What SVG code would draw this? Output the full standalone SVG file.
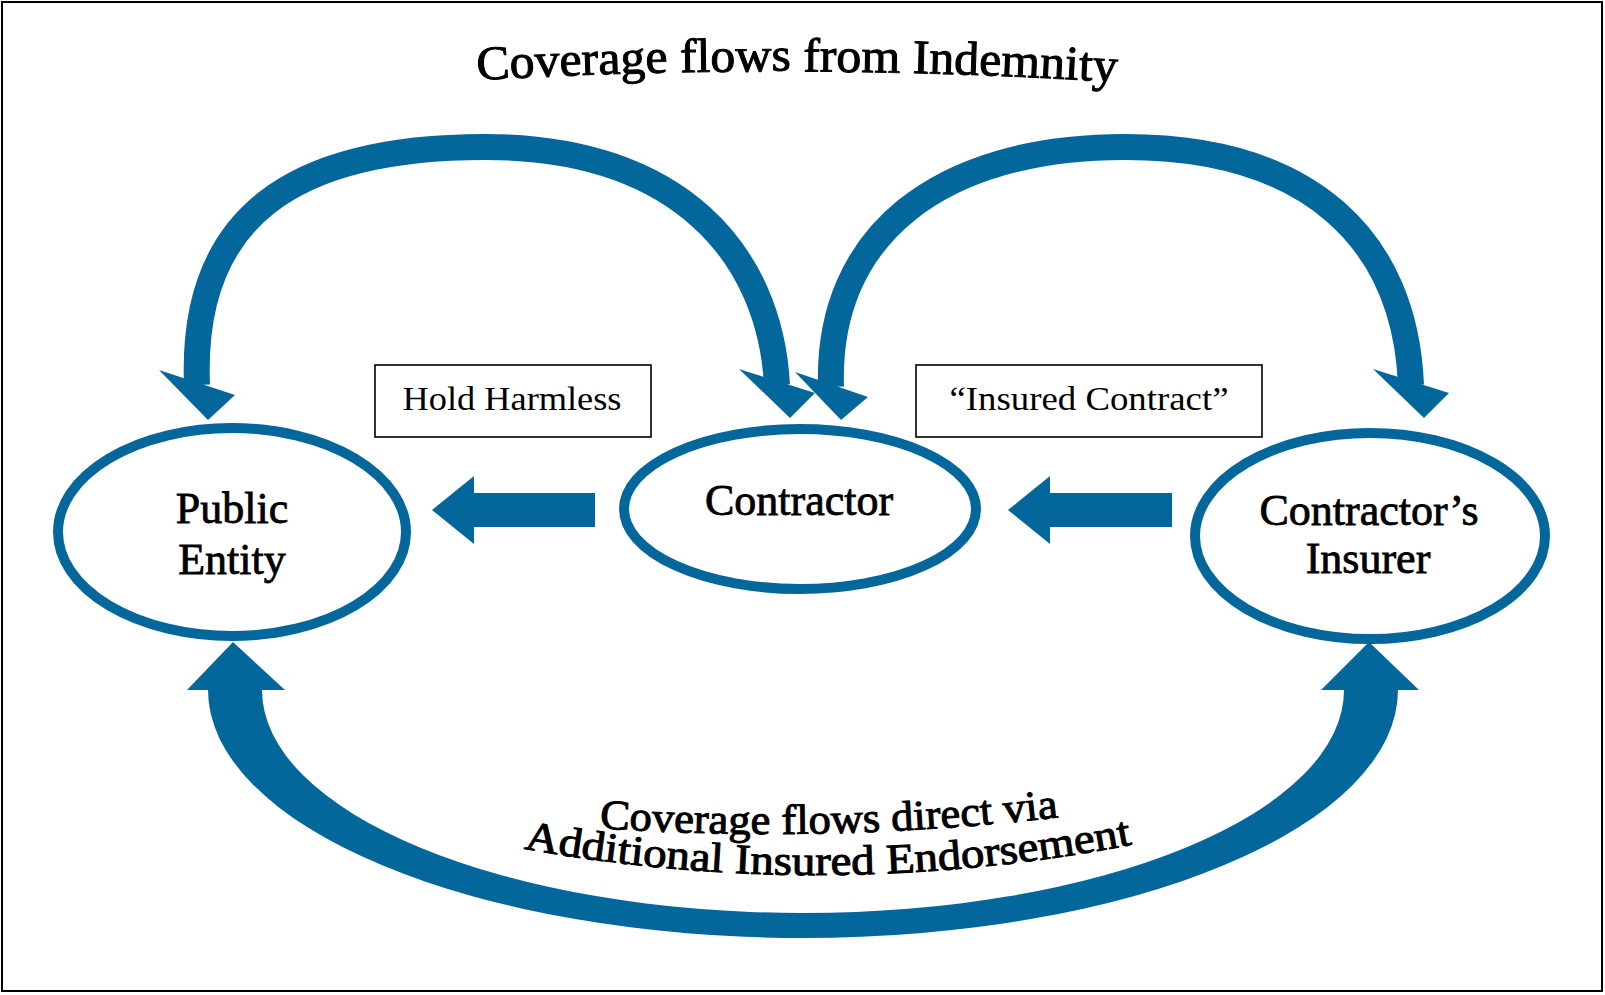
<svg xmlns="http://www.w3.org/2000/svg" width="1605" height="995" viewBox="0 0 1605 995">
<style>
.bl{fill:#04679c}
.arc{fill:none;stroke:#04679c;stroke-width:26}
.node{fill:#fff;stroke:#04679c;stroke-width:10}
.nt{font-family:"Liberation Serif",serif;font-size:44px;fill:#000;stroke:#000;stroke-width:0.8;text-anchor:middle}
.lb{fill:#fff;stroke:#000;stroke-width:1.6}
.lt{font-family:"Liberation Serif",serif;font-size:33px;fill:#000;text-anchor:middle}
.wa{font-family:"Liberation Serif",serif;fill:#000;stroke:#000;stroke-width:1}
</style>
<defs>
<path id="titlePath" d="M 476 80 Q 796 62 1118 82"/>
<path id="bot1" d="M 596 828 Q 830 844 1062 817"/>
<path id="bot2" d="M 520 848 Q 826 904 1136 844"/>
</defs>
<rect x="2" y="2" width="1600" height="989" fill="#fff" stroke="#000" stroke-width="2"/>
<g id="title">
<text class="wa" font-size="48"><textPath href="#titlePath" startOffset="50%" text-anchor="middle" textLength="640" lengthAdjust="spacingAndGlyphs">Coverage flows from Indemnity</textPath></text>
</g>
<g id="connectors">
<path class="arc" d="M 197 385 C 190 215, 295 147, 485 147 C 680 147, 770 255, 777 385"/>
<polygon class="bl" points="159,370 235,395 208,420"/>
<polygon class="bl" points="739,369 815,393 790,418"/>
<path class="arc" d="M 831 387 C 826 235, 940 147, 1125 147 C 1310 147, 1405 240, 1411 385"/>
<polygon class="bl" points="795,372 868,397 841,420"/>
<polygon class="bl" points="1373,369 1449,393 1424,418"/>
<path class="bl" d="M 208 690 A 595 248 0 0 0 1398 690 L 1344 690 A 541 223 0 0 1 262 690 Z"/>
<polygon class="bl" points="233,642 285,690 187,690"/>
<polygon class="bl" points="1369,642 1419,690 1321,690"/>
<polygon class="bl" points="432,510 474,476 474,493 595,493 595,527 474,527 474,544"/>
<polygon class="bl" points="1008,510 1050,476 1050,493 1172,493 1172,527 1050,527 1050,544"/>
</g>
<g id="hold-harmless">
<rect class="lb" x="375" y="365" width="276" height="72"/>
<text class="lt" x="512" y="410" textLength="219" lengthAdjust="spacingAndGlyphs">Hold Harmless</text>
</g>
<g id="insured-contract">
<rect class="lb" x="916" y="365" width="346" height="72"/>
<text class="lt" x="1089" y="410" textLength="279" lengthAdjust="spacingAndGlyphs">“Insured Contract”</text>
</g>
<g id="public-entity">
<ellipse class="node" cx="232" cy="532" rx="174" ry="104"/>
<text class="nt" x="232" y="523">Public</text>
<text class="nt" x="232" y="574">Entity</text>
</g>
<g id="contractor">
<ellipse class="node" cx="800" cy="509" rx="176" ry="80"/>
<text class="nt" x="799" y="515">Contractor</text>
</g>
<g id="contractors-insurer">
<ellipse class="node" cx="1370" cy="536" rx="175" ry="103"/>
<text class="nt" x="1369" y="525">Contractor’s</text>
<text class="nt" x="1368" y="573">Insurer</text>
</g>
<g id="bottom-label">
<text class="wa" font-size="42"><textPath href="#bot1" startOffset="50%" text-anchor="middle" textLength="460" lengthAdjust="spacingAndGlyphs">Coverage flows direct via</textPath></text>
<text class="wa" font-size="42"><textPath href="#bot2" startOffset="50%" text-anchor="middle" textLength="612" lengthAdjust="spacingAndGlyphs">Additional Insured Endorsement</textPath></text>
</g>
</svg>
